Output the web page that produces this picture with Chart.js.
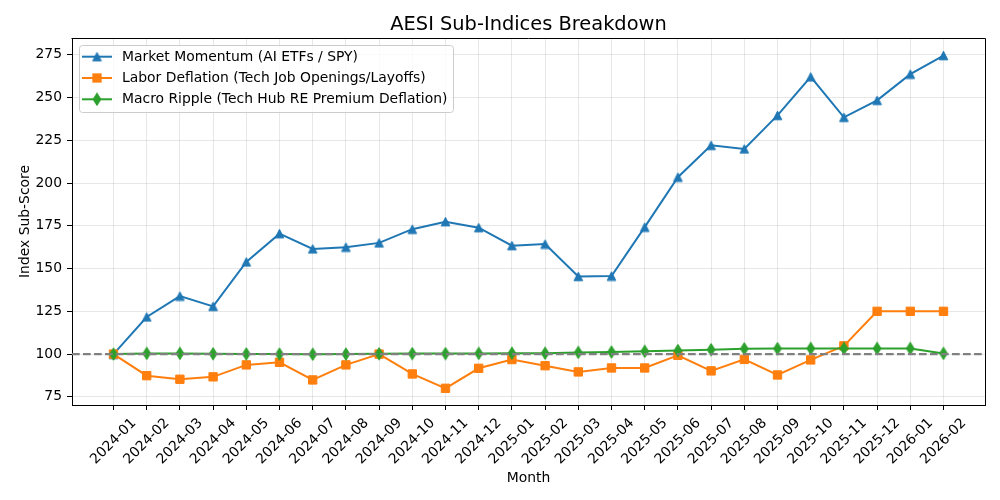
<!DOCTYPE html>
<html>
<head>
<meta charset="utf-8">
<script src="https://cdn.jsdelivr.net/npm/chart.js@4"></script>
<style>
html,body{margin:0;padding:0;background:#fff;}
#wrap{width:1000px;height:500px;}
</style>
</head>
<body>
<div id="wrap"><canvas id="c" width="1000" height="500"></canvas></div>
<script>
// ---- data ----
const months = ['2024-01','2024-02','2024-03','2024-04','2024-05','2024-06','2024-07','2024-08','2024-09','2024-10','2024-11','2024-12',
                '2025-01','2025-02','2025-03','2025-04','2025-05','2025-06','2025-07','2025-08','2025-09','2025-10','2025-11','2025-12',
                '2026-01','2026-02'];
const marketMomentum = [100, 121.7, 133.9, 127.9, 153.9, 170.4, 161.5, 162.5, 165, 173, 177.4, 173.9,
                        163.4, 164.3, 145.4, 145.6, 174.2, 203.4, 222, 219.9, 239.5, 262, 238.4, 248.3, 263.6, 274.5];
const laborDeflation = [100, 87.4, 85.3, 86.7, 93.7, 95.2, 84.9, 93.7, 100, 88.4, 80, 91.7,
                        96.8, 93.2, 89.6, 91.9, 91.9, 99.3, 90.2, 96.9, 87.8, 96.6, 104.8, 125, 125, 125];
const macroRipple = [100, 100.4, 100.4, 100.2, 100.1, 100.0, 99.9, 100.0, 100.2, 100.3, 100.3, 100.4,
                     100.5, 100.5, 101, 101.2, 101.6, 102.1, 102.6, 103.1, 103.2, 103.3, 103.3, 103.3, 103.3, 100.4];
const yTicks = [75, 100, 125, 150, 175, 200, 225, 250, 275];
const baselineValue = 100;
const seriesNames = ['Market Momentum (AI ETFs / SPY)', 'Labor Deflation (Tech Job Openings/Layoffs)', 'Macro Ripple (Tech Hub RE Premium Deflation)'];
const chartTitle = 'AESI Sub-Indices Breakdown';
const xTitle = 'Month';
const yTitle = 'Index Sub-Score';

// ---- style ----
const C_BLUE = '#1f77b4', C_ORANGE = '#ff7f0e', C_GREEN = '#2ca02c';
const FONT = '"DejaVu Sans", sans-serif';
const GRID = 'rgba(176,176,176,0.3)';

function makeTriangle(color){
  const cv = document.createElement('canvas'); cv.width = 11; cv.height = 11;
  const g = cv.getContext('2d');
  g.beginPath(); g.moveTo(5.5, 1.2); g.lineTo(9.8, 9.8); g.lineTo(1.2, 9.8); g.closePath();
  g.fillStyle = color; g.fill(); g.strokeStyle = color; g.lineWidth = 1; g.lineJoin='miter'; g.stroke();
  return cv;
}
function makeDiamond(color){
  const cv = document.createElement('canvas'); cv.width = 10; cv.height = 14;
  const g = cv.getContext('2d');
  g.beginPath(); g.moveTo(5, 7-6.2); g.lineTo(5+3.9, 7); g.lineTo(5, 7+6.2); g.lineTo(5-3.9, 7); g.closePath();
  g.fillStyle = color; g.fill(); g.strokeStyle = color; g.lineWidth = 1; g.stroke();
  return cv;
}
const triImg = makeTriangle(C_BLUE);
const diaImg = makeDiamond(C_GREEN);

const toXY = arr => arr.map((v,i)=>({x:i, y:v}));

const decorPlugin = {
  id: 'decor',
  afterDatasetsDraw(chart){
    const ctx = chart.ctx, a = chart.chartArea, ys = chart.scales.y;
    const yb = ys.getPixelForValue(baselineValue);
    ctx.save();
    ctx.beginPath(); ctx.rect(a.left, a.top, a.right-a.left, a.bottom-a.top); ctx.clip();
    ctx.strokeStyle = '#808080'; ctx.lineWidth = 2.08; ctx.setLineDash([7.7, 3.3]);
    ctx.beginPath(); ctx.moveTo(a.left, yb); ctx.lineTo(a.right, yb); ctx.stroke();
    ctx.restore();
  },
  afterDraw(chart){
    const ctx = chart.ctx, a = chart.chartArea, xs = chart.scales.x;
    ctx.save();
    // top & right spines
    ctx.strokeStyle = '#000'; ctx.lineWidth = 1;
    ctx.beginPath();
    ctx.moveTo(Math.round(a.left)-0.5, Math.round(a.top)+0.5);
    ctx.lineTo(Math.round(a.right)+0.5, Math.round(a.top)+0.5);
    ctx.lineTo(Math.round(a.right)+0.5, Math.round(a.bottom));
    ctx.stroke();
    // title
    ctx.fillStyle = '#000';
    ctx.font = '19.4px ' + FONT; ctx.textAlign = 'center'; ctx.textBaseline = 'alphabetic';
    ctx.fillText(chartTitle, (a.left+a.right)/2, 30);
    // x tick labels rotated 45, centered on tick
    ctx.font = '13.9px ' + FONT; ctx.textAlign = 'center'; ctx.textBaseline = 'middle';
    months.forEach((m,i)=>{
      const x = xs.getPixelForValue(i);
      ctx.save(); ctx.translate(x, a.bottom + 36.5); ctx.rotate(-Math.PI/4); ctx.fillText(m, 0, 0); ctx.restore();
    });
    // axis titles
    ctx.textBaseline = 'alphabetic';
    ctx.fillText(xTitle, (a.left+a.right)/2, 482);
    ctx.save(); ctx.translate(25.5, (a.top+a.bottom)/2); ctx.rotate(-Math.PI/2);
    ctx.textBaseline = 'middle'; ctx.fillText(yTitle, 0, 0); ctx.restore();
    // legend
    const bx = 79.5, by = 45.5, bw = 374, bh = 67, r = 3;
    ctx.beginPath();
    ctx.moveTo(bx+r, by); ctx.lineTo(bx+bw-r, by); ctx.arcTo(bx+bw, by, bx+bw, by+r, r);
    ctx.lineTo(bx+bw, by+bh-r); ctx.arcTo(bx+bw, by+bh, bx+bw-r, by+bh, r);
    ctx.lineTo(bx+r, by+bh); ctx.arcTo(bx, by+bh, bx, by+bh-r, r);
    ctx.lineTo(bx, by+r); ctx.arcTo(bx, by, bx+r, by, r); ctx.closePath();
    ctx.fillStyle = 'rgba(255,255,255,0.8)'; ctx.fill();
    ctx.strokeStyle = '#cccccc'; ctx.lineWidth = 1; ctx.stroke();
    const rows = [56.7, 78, 99.3];
    const cols = [C_BLUE, C_ORANGE, C_GREEN];
    rows.forEach((yy, k)=>{
      ctx.strokeStyle = cols[k]; ctx.lineWidth = 2;
      ctx.beginPath(); ctx.moveTo(82, yy); ctx.lineTo(112, yy); ctx.stroke();
      if (k === 0) ctx.drawImage(triImg, 97-5.5, yy-5.5);
      else if (k === 1) { ctx.fillStyle = C_ORANGE; ctx.fillRect(97-4.65, yy-4.65, 9.3, 9.3); }
      else ctx.drawImage(diaImg, 97-5, yy-7);
      ctx.fillStyle = '#000'; ctx.font = '13.9px ' + FONT; ctx.textAlign = 'left'; ctx.textBaseline = 'middle';
      ctx.fillText(seriesNames[k], 122, yy+0.5);
    });
    ctx.restore();
  }
};

new Chart(document.getElementById('c'), {
  type: 'line',
  data: {
    datasets: [
      { label: seriesNames[0], data: toXY(marketMomentum), borderColor: C_BLUE, backgroundColor: C_BLUE,
        borderWidth: 2, pointStyle: triImg, pointRadius: 5, order: 3 },
      { label: seriesNames[1], data: toXY(laborDeflation), borderColor: C_ORANGE, backgroundColor: C_ORANGE,
        borderWidth: 2, pointStyle: 'rect', pointRadius: 5.9, pointBorderWidth: 1, pointBorderColor: C_ORANGE, order: 2 },
      { label: seriesNames[2], data: toXY(macroRipple), borderColor: C_GREEN, backgroundColor: C_GREEN,
        borderWidth: 2, pointStyle: diaImg, pointRadius: 5, order: 1 }
    ]
  },
  options: {
    responsive: false,
    animation: false,
    layout: { padding: { top: 38, right: 15, left: 0, bottom: 0 } },
    plugins: { legend: { display: false }, title: { display: false }, tooltip: { enabled: false } },
    elements: { line: { tension: 0 } },
    scales: {
      x: {
        type: 'linear', min: -1.25, max: 26.25,
        afterBuildTicks: s => { s.ticks = months.map((_, i) => ({ value: i })); },
        afterFit: s => { s.height = 95; },
        ticks: { display: false },
        grid: { color: GRID, lineWidth: 1, tickColor: '#000', tickLength: 5, tickWidth: 1, drawTicks: true },
        border: { display: true, color: '#000', width: 1 }
      },
      y: {
        type: 'linear', min: 70.25, max: 284.75,
        afterBuildTicks: s => { s.ticks = yTicks.map(v => ({ value: v })); },
        afterFit: s => { s.width = 72; },
        ticks: { color: '#000', font: { family: FONT, size: 13.9 }, padding: 5 },
        grid: { color: GRID, lineWidth: 1, tickColor: '#000', tickLength: 5, tickWidth: 1, drawTicks: true },
        border: { display: true, color: '#000', width: 1 }
      }
    }
  },
  plugins: [decorPlugin]
});
</script>
</body>
</html>
